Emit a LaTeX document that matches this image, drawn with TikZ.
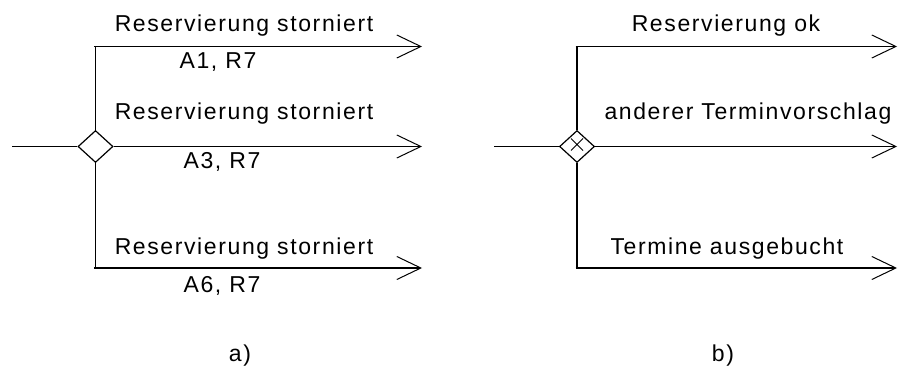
\documentclass[tikz,border=0pt]{standalone}
\usepackage{fontspec}
\setmainfont{Liberation Sans}[LetterSpace=7]
\usetikzlibrary{shapes.geometric,arrows.meta}

\begin{document}
\begin{tikzpicture}[x=1pt,y=-1pt,
  line width=1.2pt,
  every node/.style={font=\fontsize{23}{27}\selectfont},
  lbl/.style={anchor=base,inner sep=0pt},
  gate/.style={diamond,draw,line width=1.2pt,minimum width=35pt,minimum height=32pt,inner sep=0pt},
  flow/.style={-{Straight Barb[length=24pt,width=23pt,line width=1pt]}},
]
\useasboundingbox (0,0) rectangle (898,374);

% ---------- a) connector that cancels the reservation on every branch
\node[gate] (gA) at (95.5,146.5) {};
\coordinate (inA) at (12,146.5);
\coordinate (jA1) at (95.5,46.5);
\coordinate (jA3) at (95.5,268);
\coordinate (tA1) at (422,46.5);
\coordinate (tA2) at (422,146.5);
\coordinate (tA3) at (422,268);

\draw (inA) -- (gA.west);
\draw (gA.north) -- (jA1);
\draw (gA.south) -- (jA3);
\draw[flow] ([xshift=-1.5pt]jA1) -- (tA1);
\draw[flow] (gA.east) -- (tA2);
\draw[flow] ([xshift=-1.5pt]jA3) -- (tA3);

\node[lbl] (sA1) at (244,32) {Reservierung storniert};
\node[lbl] (cA1) at (218,69) {A1, R7};
\node[lbl] (sA2) at (244,120) {Reservierung storniert};
\node[lbl] (cA2) at (222,169) {A3, R7};
\node[lbl] (sA3) at (244,255) {Reservierung storniert};
\node[lbl] (cA3) at (222,293) {A6, R7};

\node[lbl] (capA) at (240,362) {a)};

% ---------- b) exclusive-or connector with three outcomes
\node[gate] (gB) at (577,146.5) {};
\draw[line width=1pt] ([shift={(-6,-8)}]gB.center) -- ([shift={(6,4)}]gB.center)
                      ([shift={(6,-8)}]gB.center) -- ([shift={(-6,4)}]gB.center);
\coordinate (inB) at (494,146.5);
\coordinate (jB1) at (577,46.5);
\coordinate (jB3) at (577,268);
\coordinate (tB1) at (897,46.5);
\coordinate (tB2) at (897,146.5);
\coordinate (tB3) at (897,268);

\draw (inB) -- (gB.west);
\draw (gB.north) -- (jB1);
\draw (gB.south) -- (jB3);
\draw[flow] ([xshift=-1.5pt]jB1) -- (tB1);
\draw[flow] (gB.east) -- (tB2);
\draw[flow] ([xshift=-1.5pt]jB3) -- (tB3);

\node[lbl] (sB1) at (726,32) {Reservierung ok};
\node[lbl] (sB2) at (748,120) {anderer Terminvorschlag};
\node[lbl] (sB3) at (727,255) {Termine ausgebucht};

\node[lbl] (capB) at (723,362) {b)};
\end{tikzpicture}
\end{document}
